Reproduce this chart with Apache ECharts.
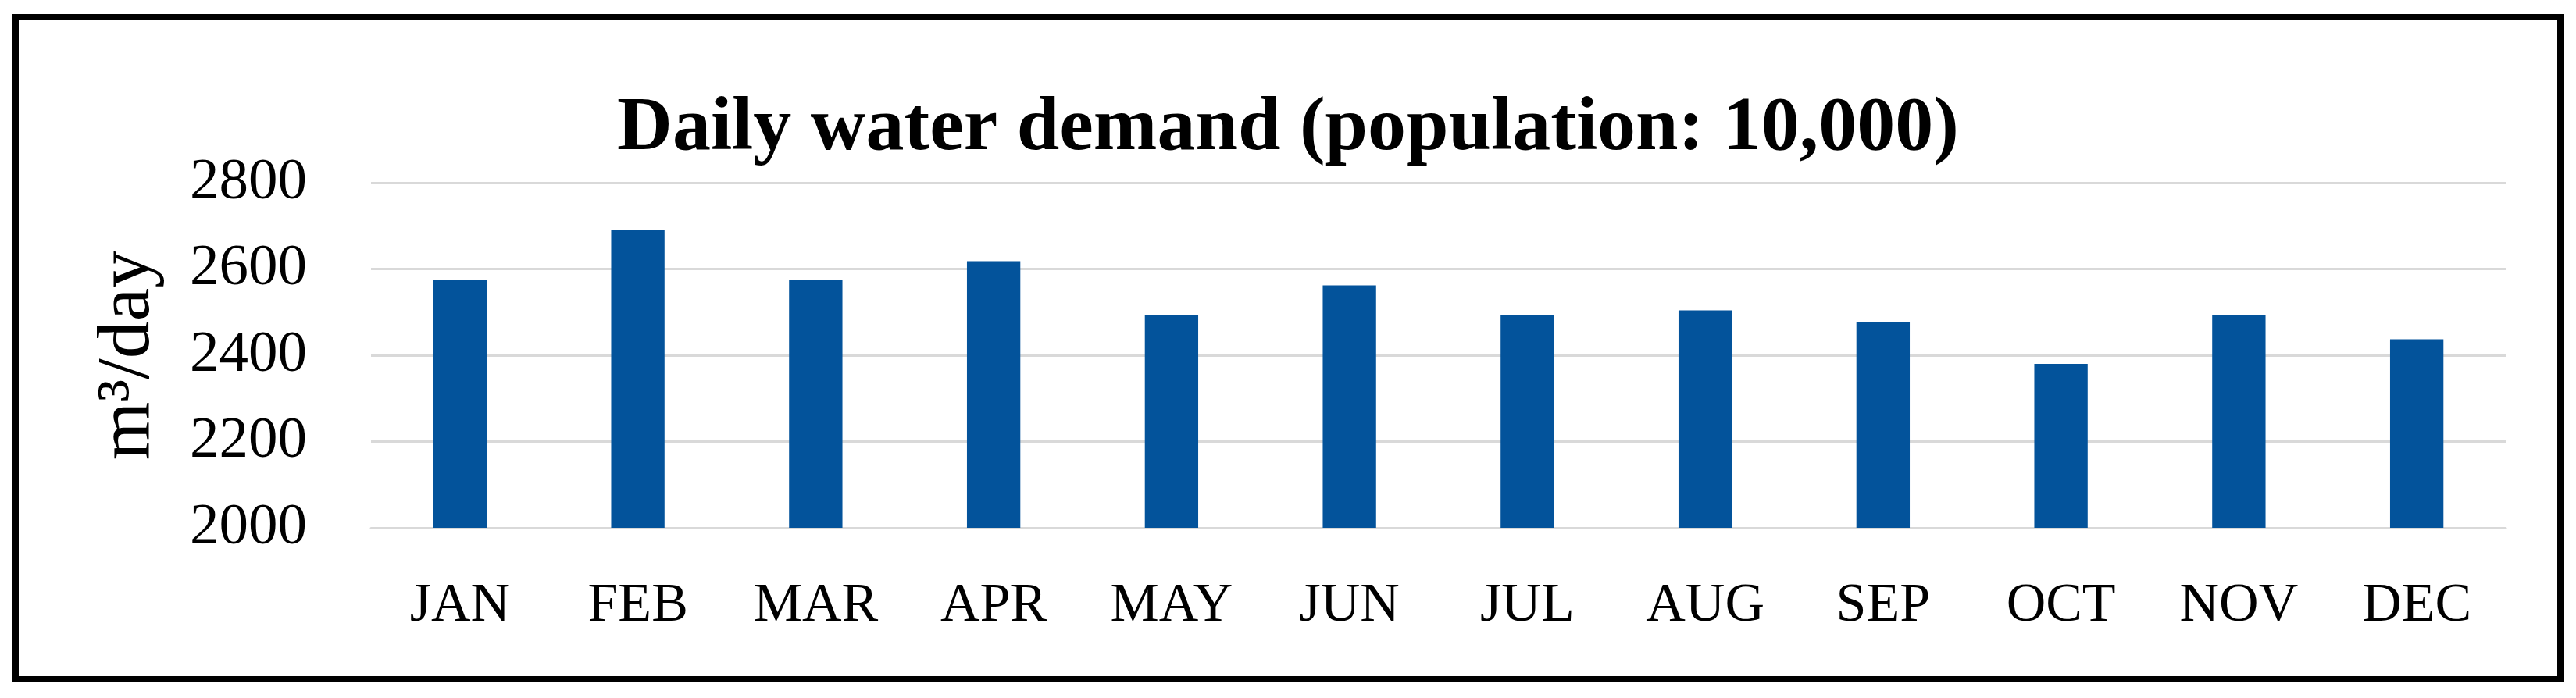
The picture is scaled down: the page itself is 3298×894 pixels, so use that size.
<!DOCTYPE html>
<html>
<head>
<meta charset="utf-8">
<script src="https://cdn.jsdelivr.net/npm/echarts@6/dist/echarts.min.js"></script>
<style>
html,body{margin:0;padding:0;background:#fff;}
#chart{width:3298px;height:894px;}
</style>
</head>
<body>
<div id="chart"></div>
<script>
const titleText = 'Daily water demand (population: 10,000)';
const yAxisName = 'm³/day';
const categories = ['JAN','FEB','MAR','APR','MAY','JUN','JUL','AUG','SEP','OCT','NOV','DEC'];
const demand = [2575, 2690, 2575, 2618, 2494, 2562, 2494, 2504, 2477, 2380, 2494, 2437];
const yMin = 2000, yMax = 2800, yStep = 200;

const FONT = "'Liberation Serif', 'Times New Roman', serif";
const chart = echarts.init(document.getElementById('chart'), null, {renderer: 'canvas'});
chart.setOption({
  backgroundColor: '#ffffff',
  animation: false,
  title: {
    text: titleText,
    left: 'center',
    top: 112,
    textStyle: {fontFamily: FONT, fontWeight: 'bold', fontSize: 98, color: '#000'}
  },
  grid: {left: 475, right: 90, top: 234, bottom: 218},
  xAxis: {
    type: 'category',
    data: categories,
    axisLine: {show: true, lineStyle: {color: '#d9d9d9', width: 3}},
    axisTick: {show: false},
    axisLabel: {fontFamily: FONT, fontSize: 70, color: '#000', margin: 66}
  },
  yAxis: {
    type: 'value',
    min: yMin, max: yMax, interval: yStep,
    name: yAxisName,
    nameLocation: 'middle',
    nameRotate: 90,
    nameGap: 262,
    nameTextStyle: {fontFamily: FONT, fontSize: 96, color: '#000'},
    axisLine: {show: false},
    axisTick: {show: false},
    axisLabel: {fontFamily: FONT, fontSize: 75, color: '#000', margin: 82, formatter: function (v) { return String(v); }},
    splitLine: {show: true, lineStyle: {color: '#d9d9d9', width: 3}}
  },
  series: [{
    type: 'bar',
    data: demand,
    barWidth: '30%',
    itemStyle: {color: '#03539b'}
  }],
  graphic: [{
    type: 'rect',
    shape: {x: 20, y: 22, width: 3258, height: 848},
    style: {fill: 'none', stroke: '#000', lineWidth: 8},
    z: 100
  }]
});
</script>
</body>
</html>
